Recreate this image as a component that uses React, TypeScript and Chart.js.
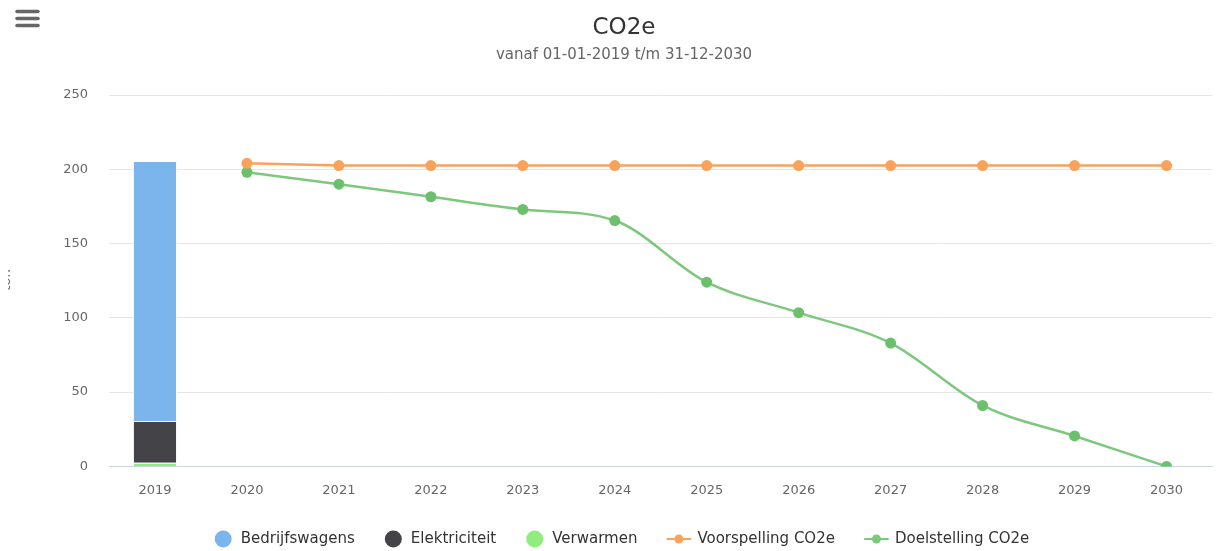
import React, { useEffect, useRef } from "react";
import { Chart, registerables } from "chart.js";

Chart.register(...registerables);

const years = ["2019", "2020", "2021", "2022", "2023", "2024", "2025", "2026", "2027", "2028", "2029", "2030"];
const bedrijfswagens = [175, null, null, null, null, null, null, null, null, null, null, null];
const elektriciteit = [28, null, null, null, null, null, null, null, null, null, null, null];
const verwarmen = [2.5, null, null, null, null, null, null, null, null, null, null, null];
const voorspelling = [null, 204, 202.5, 202.5, 202.5, 202.5, 202.5, 202.5, 202.5, 202.5, 202.5, 202.5];
const doelstelling = [null, 198, 190, 181.5, 173, 165.5, 124, 103.5, 83, 41, 20.5, 0];
const yTicks = [0, 50, 100, 150, 200, 250];

const FONT = "'DejaVu Sans', sans-serif";

const decorPlugin = {
  id: "decor",
  afterDraw(chart: any) {
    const ctx = chart.ctx;
    ctx.save();
    // hamburger
    ctx.strokeStyle = "#666666";
    ctx.lineWidth = 3.5;
    ctx.lineCap = "round";
    for (const y of [11.5, 18.5, 25.5]) {
      ctx.beginPath();
      ctx.moveTo(17, y);
      ctx.lineTo(38, y);
      ctx.stroke();
    }
    // title
    ctx.textAlign = "center";
    ctx.textBaseline = "middle";
    ctx.fillStyle = "#333333";
    ctx.font = `23px ${FONT}`;
    ctx.fillText("CO2e", 624, 28);
    ctx.fillStyle = "#666666";
    ctx.font = `15px ${FONT}`;
    ctx.fillText("vanaf 01-01-2019 t/m 31-12-2030", 624, 55);

    // legend (custom, drawn from the chart's datasets)
    const ds = chart.data.datasets;
    const order = [4, 3, 2, 0, 1];
    ctx.font = `15px ${FONT}`;
    ctx.textAlign = "left";
    const items = order.map((i) => {
      const d = ds[i];
      const isLine = d.type === "line";
      const mw = isLine ? 23 : 17;
      const gap = isLine ? 7 : 9;
      const tw = ctx.measureText(d.label).width;
      return { d, isLine, mw, gap, tw, w: mw + gap + tw };
    });
    const spacing = 30;
    const total = items.reduce((s, it) => s + it.w, 0) + spacing * (items.length - 1);
    let x = 622 - total / 2;
    const ly = 539;
    for (const it of items) {
      if (it.isLine) {
        ctx.strokeStyle = it.d.borderColor;
        ctx.lineWidth = 2;
        ctx.beginPath();
        ctx.moveTo(x, ly);
        ctx.lineTo(x + it.mw, ly);
        ctx.stroke();
        ctx.fillStyle = it.d.borderColor;
        ctx.beginPath();
        ctx.arc(x + it.mw / 2, ly, 4.5, 0, Math.PI * 2);
        ctx.fill();
      } else {
        ctx.fillStyle = it.d.backgroundColor;
        ctx.beginPath();
        ctx.arc(x + it.mw / 2, ly, it.mw / 2, 0, Math.PI * 2);
        ctx.fill();
      }
      ctx.fillStyle = "#333333";
      ctx.textBaseline = "middle";
      ctx.fillText(it.d.label, x + it.mw + it.gap, ly);
      x += it.w + spacing;
    }

    // clipped y axis title
    ctx.beginPath();
    ctx.rect(8, 0, 100, 551);
    ctx.clip();
    ctx.translate(7, 280);
    ctx.rotate(-Math.PI / 2);
    ctx.textAlign = "center";
    ctx.font = `13px ${FONT}`;
    ctx.fillStyle = "#666666";
    ctx.fillText("ton", 0, 0);
    ctx.restore();
  },
};

export default function App() {
  const ref = useRef<HTMLCanvasElement | null>(null);
  useEffect(() => {
    document.body.style.margin = "0";
    const chart = new Chart(ref.current!, {
      type: "bar",
      data: {
        labels: years,
        datasets: [
          {
            type: "line",
            label: "Voorspelling CO2e",
            data: voorspelling,
            borderColor: "#f7a35c",
            backgroundColor: "#f7a35c",
            borderWidth: 2.5,
            pointRadius: 5.5,
            pointBackgroundColor: "#f7a35c",
            pointBorderWidth: 0,
            tension: 0,
            stack: "v",
            order: 0,
          } as any,
          {
            type: "line",
            label: "Doelstelling CO2e",
            data: doelstelling,
            borderColor: "#7cc87c",
            backgroundColor: "#7cc87c",
            borderWidth: 2.5,
            pointRadius: 5.5,
            pointBackgroundColor: "#6cc06c",
            pointBorderWidth: 0,
            cubicInterpolationMode: "monotone",
            stack: "d",
            order: 0,
          } as any,
          {
            label: "Verwarmen",
            data: verwarmen,
            backgroundColor: "#90ed7d",
            borderColor: "#ffffff",
            borderWidth: 1,
            stack: "s",
            order: 1,
          },
          {
            label: "Elektriciteit",
            data: elektriciteit,
            backgroundColor: "#434348",
            borderColor: "#ffffff",
            borderWidth: 1,
            stack: "s",
            order: 1,
          },
          {
            label: "Bedrijfswagens",
            data: bedrijfswagens,
            backgroundColor: "#7cb5ec",
            borderColor: "#ffffff",
            borderWidth: 1,
            stack: "s",
            order: 1,
          },
        ],
      },
      options: {
        animation: false,
        responsive: true,
        maintainAspectRatio: false,
        datasets: { bar: { barPercentage: 0.48, categoryPercentage: 1 } },
        layout: { padding: { top: 95, left: 9, right: 0, bottom: 37 } },
        scales: {
          x: {
            stacked: true,
            offset: true,
            grid: { display: false, drawTicks: false },
            border: { color: "#ccd6eb", width: 1 },
            ticks: { color: "#666666", font: { family: FONT, size: 13 }, padding: 16 },
          },
          y: {
            stacked: true,
            min: 0,
            max: 250,
            afterBuildTicks: (s: any) => {
              s.ticks = yTicks.map((v) => ({ value: v }));
            },
            afterFit: (s: any) => {
              s.width = 100;
            },
            grid: { color: "#e6e6e6", drawTicks: false },
            border: { display: false },
            ticks: { color: "#666666", font: { family: FONT, size: 13 }, padding: 21 },
          },
        },
        plugins: {
          title: { display: false },
          tooltip: { enabled: false },
          legend: { display: false },
        },
      },
      plugins: [decorPlugin],
    } as any);
    return () => chart.destroy();
  }, []);
  return (
    <div style={{ width: 1218, height: 551, position: "relative" }}>
      <canvas ref={ref} />
    </div>
  );
}
